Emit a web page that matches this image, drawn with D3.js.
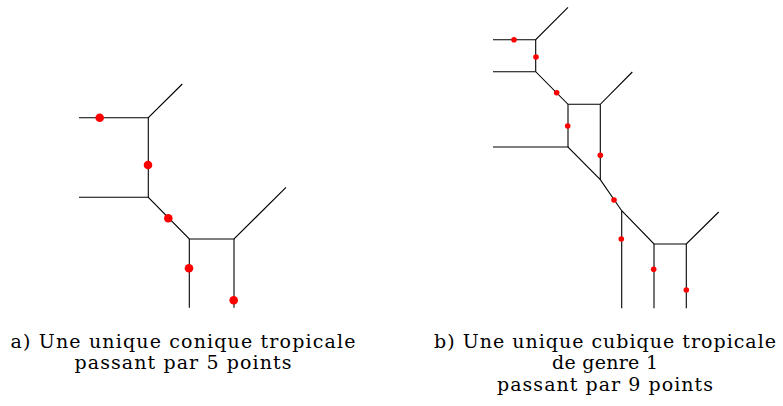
<!DOCTYPE html>
<html>
<head>
<meta charset="utf-8">
<script src="https://cdn.jsdelivr.net/npm/d3@7"></script>
<style>
  html, body { margin: 0; padding: 0; background: #fff; }
  svg { display: block; }
  .caption { font-family: "DejaVu Serif", serif; font-size: 19px; fill: #000; }
</style>
</head>
<body>
<svg id="fig" width="783" height="406"></svg>
<script>
'use strict';

/* -- Panel a : tropical conic (edges as polylines, in tropical units) ----- */
const conicEdges = [
    [[0, 19.0], [6.93, 19.0], [10.33, 22.37]],
    [[6.93, 19.0], [6.93, 11.04]],
    [[0, 11.04], [6.93, 11.04], [11.03, 6.87], [15.5, 6.87], [20.7, 12.04]],
    [[11.03, 6.87], [11.03, 0]],
    [[15.5, 6.87], [15.5, 0]]
];
const conicPoints = [
    [2.07, 19.0], [6.9, 14.27], [8.93, 8.94], [11.0, 3.94], [15.47, 0.74]
];

/* -- Panel b : tropical cubic of genus 1 ---------------------------------- */
const cubicEdges = [
    [[0, 26.86], [4.27, 26.86], [7.5, 30.1]],
    [[4.27, 26.86], [4.27, 23.66]],
    [[0, 23.66], [4.27, 23.66], [7.5, 20.4], [10.73, 20.4], [13.93, 23.63]],
    [[7.5, 20.4], [7.5, 16.13]],
    [[0, 16.13], [7.5, 16.13], [10.73, 12.86], [12.87, 9.76], [16.1, 6.43], [19.33, 6.43], [22.57, 9.63]],
    [[10.73, 20.4], [10.73, 12.86]],
    [[12.87, 9.76], [12.87, 0]],
    [[16.1, 6.43], [16.1, 0]],
    [[19.33, 6.43], [19.33, 0]]
];
const cubicPoints = [
    [2.1, 26.86], [4.3, 25.13], [6.37, 21.56], [7.47, 18.23], [10.73, 15.3],
    [12.1, 10.83], [12.83, 6.93], [16.07, 3.9], [19.33, 1.83]
];

/* -- Captions (text and measured line widths) ----------------------------- */
const captionA = ['a) Une unique conique tropicale', 'passant par 5 points'];
const captionAWidths = [345, 217];
const captionB = ['b) Une unique cubique tropicale', 'de genre 1', 'passant par 9 points'];
const captionBWidths = [342, 106, 216];

const svg = d3.select('#fig');

/* -- Draw one panel ------------------------------------------------------- */
const drawPanel = function(Obj) {
    const xScale = d3.scaleLinear().domain(Obj.xDomain).range(Obj.xRange);
    const yScale = d3.scaleLinear().domain(Obj.yDomain).range(Obj.yRange);

    const line = d3.line()
        .x(function(d) { return xScale(d[0]); })
        .y(function(d) { return yScale(d[1]); });

    const g = svg.append('g');

    g.selectAll('path.edge')
        .data(Obj.edges)
        .enter()
        .append('path')
        .attr('class', 'edge')
        .attr('d', line)
        .attr('fill', 'none')
        .attr('stroke', '#000')
        .attr('stroke-width', 1.1)
        .attr('stroke-linejoin', 'miter');

    g.selectAll('circle.pt')
        .data(Obj.points)
        .enter()
        .append('circle')
        .attr('class', 'pt')
        .attr('cx', function(d) { return xScale(d[0]); })
        .attr('cy', function(d) { return yScale(d[1]); })
        .attr('r', Obj.radius)
        .attr('fill', '#ff0000');

    // one <text> per caption line, stretched to the measured width
    g.selectAll('text.caption')
        .data(Obj.caption)
        .enter()
        .append('text')
        .attr('class', 'caption')
        .attr('text-anchor', 'middle')
        .attr('x', Obj.captionX)
        .attr('y', function(d, i) { return Obj.captionY + i * 21.6; })
        .attr('textLength', function(d, i) { return Obj.captionWidths[i]; })
        .attr('lengthAdjust', 'spacing')
        .text(function(d) { return d; });
};

drawPanel({
    edges: conicEdges,
    points: conicPoints,
    xDomain: [0, 20.7], xRange: [79, 286],
    yDomain: [0, 22.37], yRange: [307.7, 84],
    radius: 4.3,
    caption: captionA,
    captionWidths: captionAWidths,
    captionX: 183, captionY: 347.5
});

drawPanel({
    edges: cubicEdges,
    points: cubicPoints,
    xDomain: [0, 22.57], xRange: [493, 718.7],
    yDomain: [0, 30.1], yRange: [308.3, 7.3],
    radius: 2.8,
    caption: captionB,
    captionWidths: captionBWidths,
    captionX: 605, captionY: 347.5
});
</script>
</body>
</html>
